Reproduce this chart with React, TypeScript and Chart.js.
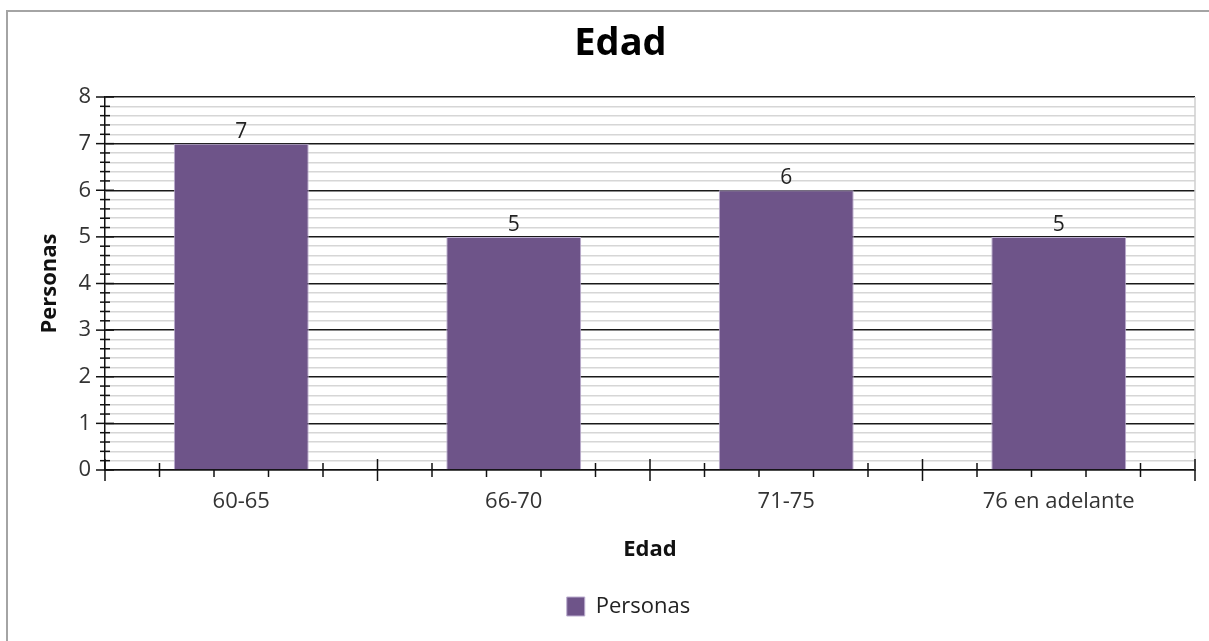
import React, { useEffect, useRef } from "react";
import { Chart, registerables } from "chart.js";

Chart.register(...registerables);

// ---- data ----
const categories: string[] = ["60-65", "66-70", "71-75", "76 en adelante"];
const personas: number[] = [7, 5, 6, 5];
const yMin = 0;
const yMax = 8;
const yMinorStep = 0.2;
const chartTitle = "Edad";
const xAxisTitle = "Edad";
const yAxisTitle = "Personas";
const seriesName = "Personas";

const FONT = "'Open Sans', 'Noto Sans', sans-serif";
const BAR_COLOR = "#6e5489";
const BAR_EDGE = "#bcaed0";

const isMajor = (v: number) => Math.abs(v - Math.round(v)) < 1e-6;

const axisTicksPlugin = {
  id: "axisTicks",
  afterLayout(chart: any) {
    const lg = chart.legend;
    if (lg) {
      lg.left += 31;
      lg.right += 31;
    }
    const tb = chart.titleBlock;
    if (tb) {
      tb.left += 23;
      tb.right += 23;
    }
  },
  beforeDatasetsDraw(chart: any) {
    const { ctx, chartArea: a, scales } = chart;
    const xs = scales.x;
    const ys = scales.y;
    ctx.save();
    // right edge of plot area
    ctx.strokeStyle = "#cfcfcf";
    ctx.lineWidth = 1.5;
    ctx.beginPath();
    ctx.moveTo(a.right, a.top);
    ctx.lineTo(a.right, a.bottom);
    ctx.stroke();

    ctx.strokeStyle = "#111";
    ctx.lineWidth = 1.5;
    // y tick marks (major + minor)
    ys.ticks.forEach((t: any) => {
      const py = ys.getPixelForValue(t.value);
      const l = isMajor(t.value) ? 9 : 5;
      ctx.beginPath();
      ctx.moveTo(a.left - l, py);
      ctx.lineTo(a.left + l, py);
      ctx.stroke();
    });
    // x tick marks (major at category boundaries, minor at fifths)
    const n = categories.length;
    const w = n > 1 ? xs.getPixelForValue(1) - xs.getPixelForValue(0) : a.right - a.left;
    const drawX = (px: number, l: number) => {
      ctx.beginPath();
      ctx.moveTo(px, a.bottom - l);
      ctx.lineTo(px, a.bottom + l);
      ctx.stroke();
    };
    for (let i = 0; i < n; i++) {
      const start = xs.getPixelForValue(i) - w / 2;
      for (let j = 0; j < 5; j++) {
        drawX(start + (j * w) / 5, j === 0 ? 11 : 7);
      }
    }
    drawX(xs.getPixelForValue(n - 1) + w / 2, 11);
    ctx.restore();
  },
  afterDatasetsDraw(chart: any) {
    const { ctx } = chart;
    const meta = chart.getDatasetMeta(0);
    ctx.save();
    ctx.font = `21px ${FONT}`;
    ctx.fillStyle = "#222";
    ctx.textAlign = "center";
    ctx.textBaseline = "alphabetic";
    meta.data.forEach((bar: any, i: number) => {
      ctx.fillText(String(personas[i]), bar.x, bar.y - 6);
    });
    ctx.restore();
  },
};

export default function App() {
  const canvasRef = useRef<HTMLCanvasElement | null>(null);

  useEffect(() => {
    if (!canvasRef.current) return;
    const chart = new Chart(canvasRef.current, {
      type: "bar",
      data: {
        labels: categories,
        datasets: [
          {
            label: seriesName,
            data: personas,
            backgroundColor: BAR_COLOR,
            borderColor: BAR_EDGE,
            borderWidth: 1,
            categoryPercentage: 1,
            barPercentage: 0.495,
          },
        ],
      },
      options: {
        animation: false,
        responsive: true,
        maintainAspectRatio: false,
        layout: { padding: { top: 0, left: 0, right: 14, bottom: 13.5 } },
        plugins: {
          title: {
            display: true,
            text: chartTitle,
            color: "#000",
            font: { family: FONT, size: 38, weight: "bold" },
            padding: { top: 21, bottom: 30.4 },
          },
          legend: {
            display: true,
            position: "bottom",
            labels: {
              color: "#222",
              font: { family: FONT, size: 22 },
              boxWidth: 18,
              boxHeight: 19,
              padding: 10,
            },
          },
          tooltip: { enabled: false },
        },
        scales: {
          x: {
            grid: { display: true, drawOnChartArea: false, drawTicks: false },
            border: { display: true, color: "#111", width: 1.5 },
            ticks: {
              color: "#333",
              font: { family: FONT, size: 22 },
              padding: 19,
              maxRotation: 0,
            },
            title: {
              display: true,
              text: xAxisTitle,
              color: "#111",
              font: { family: FONT, size: 22, weight: "bold" },
              padding: { top: 0, bottom: 22.8 },
            },
            afterFit(scale: any) {
              scale.height = 115.5;
            },
          },
          y: {
            min: yMin,
            max: yMax,
            grid: {
              drawTicks: false,
              color: (c: any) => (isMajor(c.tick.value) ? "#1a1a1a" : "#d6d6d6"),
              lineWidth: 1.5,
            },
            border: { display: true, color: "#111", width: 1.5 },
            ticks: {
              stepSize: yMinorStep,
              autoSkip: false,
              color: "#333",
              font: { family: FONT, size: 22 },
              padding: 14,
              callback: (v: any) => (isMajor(Number(v)) ? String(Math.round(Number(v))) : ""),
            },
            title: {
              display: true,
              text: yAxisTitle,
              color: "#111",
              font: { family: FONT, size: 22, weight: "bold" },
              padding: { top: 37, bottom: 0 },
            },
            afterFit(scale: any) {
              scale.width = 105;
            },
          },
        },
      },
      plugins: [axisTicksPlugin],
    });
    return () => chart.destroy();
  }, []);

  return (
    <div style={{ position: "fixed", left: 0, top: 0, width: 1209, height: 641, background: "#fff" }}>
      <div
        style={{
          position: "absolute",
          left: 6,
          top: 10,
          right: 0,
          bottom: 0,
          borderLeft: "2px solid #a4a4a4",
          borderTop: "2px solid #a4a4a4",
          pointerEvents: "none",
        }}
      />
      <canvas ref={canvasRef} style={{ position: "absolute", left: 0, top: 0, width: 1209, height: 641 }} />
    </div>
  );
}
